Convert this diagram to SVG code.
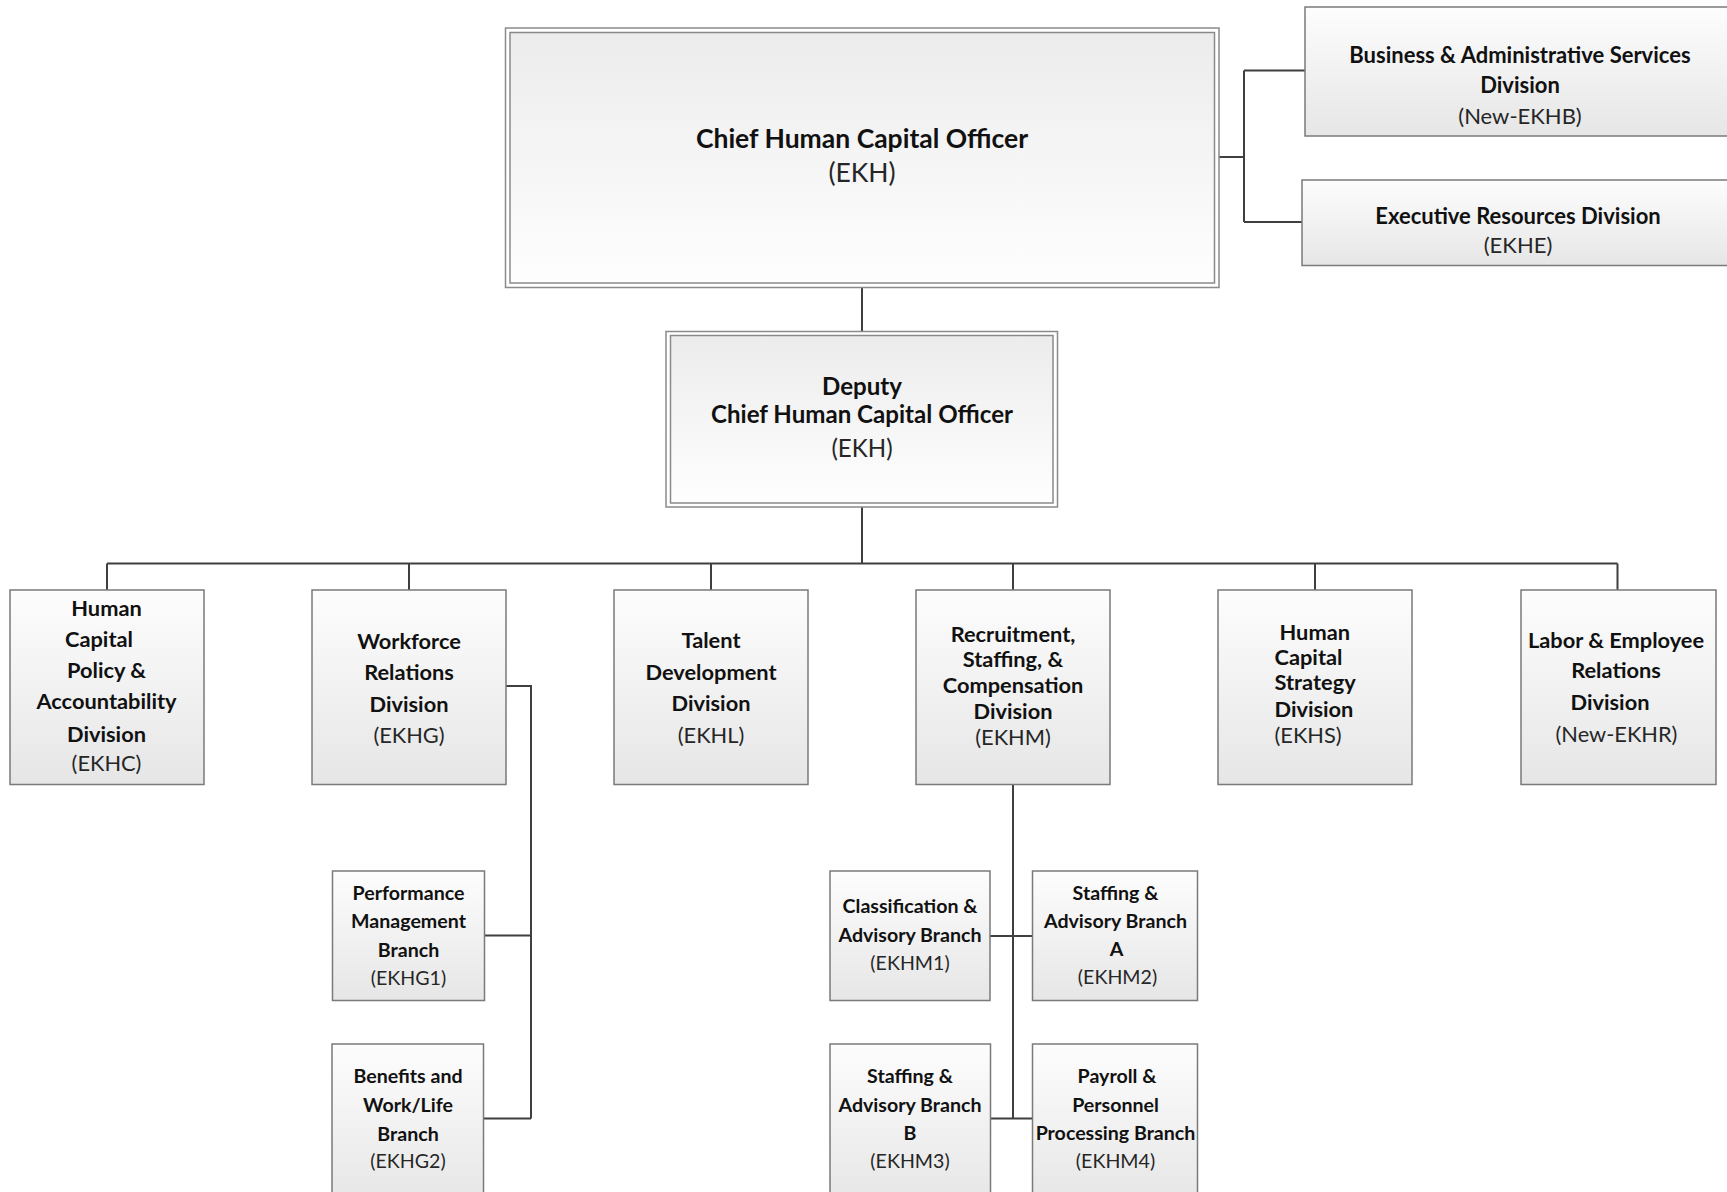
<svg xmlns="http://www.w3.org/2000/svg" width="1727" height="1192" viewBox="0 0 1727 1192">
<defs>
<linearGradient id="gDown" x1="0" y1="0" x2="0" y2="1"><stop offset="0" stop-color="#fdfdfd"/><stop offset="1" stop-color="#e6e6e6"/></linearGradient>
<linearGradient id="gUp" x1="0" y1="0" x2="0" y2="1"><stop offset="0" stop-color="#ececec"/><stop offset="1" stop-color="#fefefe"/></linearGradient>
<style>
.box{fill:url(#gDown);stroke:#7a7a7a;stroke-width:1.5}
.outer{fill:#ffffff;stroke:#8a8a8a;stroke-width:1.5}
.inner{fill:url(#gUp);stroke:#8a8a8a;stroke-width:1.5}
.conn{fill:none;stroke:#3f3f3f;stroke-width:2}
text{font-family:Lato,"Liberation Sans",sans-serif;text-anchor:middle;fill:#111}
.b{font-weight:bold}
.r{font-weight:normal;fill:#262626}
.h1{font-size:26.5px}
.h2{font-size:24.1px}
.h3{font-size:22px}
.d{font-size:21.8px}
.s{font-size:19.6px}
.l{text-anchor:start}
</style>
</defs>
<g id="connectors">
<path class="conn" d="M862 287.5V331.5"/>
<path class="conn" d="M1219 157H1244M1244 70.5V222M1244 70.5H1305M1244 222H1302"/>
<path class="conn" d="M862 507V563.5M107 563.5H1617.5M107 563.5V590M409 563.5V590M711 563.5V590M1013 563.5V590M1315 563.5V590M1617.5 563.5V590"/>
<path class="conn" d="M506 686H531V1118.5M531 935.5H484.5M531 1118.5H483.5"/>
<path class="conn" d="M1013 784.5V1118.5M990 936H1032.5M990.5 1118.5H1032.5"/>
</g>
<g id="chco">
<rect class="outer" x="505.5" y="28" width="713.5" height="259.5"/>
<rect class="inner" x="510" y="32.5" width="704.5" height="250.5"/>
<text class="b h1" x="862" y="148">Chief Human Capital Officer</text>
<text class="r h1" x="862" y="182">(EKH)</text>
</g>
<g id="bas">
<rect class="box" x="1305" y="7" width="430" height="129"/>
<text class="b h3" x="1520" y="63">Business &amp; Administrative Services</text>
<text class="b h3" x="1520" y="93">Division</text>
<text class="r h3" x="1520" y="124">(New-EKHB)</text>
</g>
<g id="erd">
<rect class="box" x="1302" y="180" width="433" height="85.5"/>
<text class="b h3" x="1518" y="224">Executive Resources Division</text>
<text class="r h3" x="1518" y="253">(EKHE)</text>
</g>
<g id="deputy">
<rect class="outer" x="666" y="331.5" width="391.5" height="175.5"/>
<rect class="inner" x="670.5" y="335.5" width="382.5" height="167.5"/>
<text class="b h2" x="862" y="395">Deputy</text>
<text class="b h2" x="862" y="423">Chief Human Capital Officer</text>
<text class="r h2" x="862" y="456.5">(EKH)</text>
</g>
<g id="ekhc">
<rect class="box" x="10" y="590" width="194" height="194.5"/>
<text class="b d" x="106.5" y="616">Human</text>
<text class="b d" x="99" y="647">Capital</text>
<text class="b d" x="106.5" y="678">Policy &amp;</text>
<text class="b d" x="106.5" y="709">Accountability</text>
<text class="b d" x="106.5" y="741.5">Division</text>
<text class="r d" x="106.5" y="771">(EKHC)</text>
</g>
<g id="ekhg">
<rect class="box" x="312" y="590" width="194" height="194.5"/>
<text class="b d" x="409" y="649">Workforce</text>
<text class="b d" x="409" y="680">Relations</text>
<text class="b d" x="409" y="711.5">Division</text>
<text class="r d" x="409" y="743">(EKHG)</text>
</g>
<g id="ekhl">
<rect class="box" x="614" y="590" width="194" height="194.5"/>
<text class="b d" x="711" y="648">Talent</text>
<text class="b d" x="711" y="679.5">Development</text>
<text class="b d" x="711" y="711">Division</text>
<text class="r d" x="711" y="742.5">(EKHL)</text>
</g>
<g id="ekhm">
<rect class="box" x="916" y="590" width="194" height="194.5"/>
<text class="b d" x="1013" y="641.5">Recruitment,</text>
<text class="b d" x="1013" y="666.5">Staffing, &amp;</text>
<text class="b d" x="1013" y="692.5">Compensation</text>
<text class="b d" x="1013" y="718.5">Division</text>
<text class="r d" x="1013" y="745">(EKHM)</text>
</g>
<g id="ekhs">
<rect class="box" x="1218" y="590" width="194" height="194.5"/>
<text class="b d l" x="1279.5" y="640">Human</text>
<text class="b d l" x="1274.5" y="665">Capital</text>
<text class="b d l" x="1274.5" y="690">Strategy</text>
<text class="b d l" x="1274.5" y="716.5">Division</text>
<text class="r d l" x="1274.5" y="743">(EKHS)</text>
</g>
<g id="ekhr">
<rect class="box" x="1521" y="590" width="195" height="194.5"/>
<text class="b d" x="1616" y="647.5">Labor &amp; Employee</text>
<text class="b d" x="1616" y="678">Relations</text>
<text class="b d" x="1610" y="709.5">Division</text>
<text class="r d" x="1616.5" y="742">(New-EKHR)</text>
</g>
<g id="ekhg1">
<rect class="box" x="332.5" y="871" width="152" height="129.5"/>
<text class="b s" x="408.5" y="900">Performance</text>
<text class="b s" x="408.5" y="928">Management</text>
<text class="b s" x="408.5" y="956.5">Branch</text>
<text class="r s" x="408.5" y="985">(EKHG1)</text>
</g>
<g id="ekhg2">
<rect class="box" x="332" y="1044" width="151.5" height="160"/>
<text class="b s" x="408" y="1083">Benefits and</text>
<text class="b s" x="408" y="1111.5">Work/Life</text>
<text class="b s" x="408" y="1141">Branch</text>
<text class="r s" x="408" y="1168">(EKHG2)</text>
</g>
<g id="ekhm1">
<rect class="box" x="830" y="871" width="160" height="129.5"/>
<text class="b s" x="910" y="913">Classification &amp;</text>
<text class="b s" x="910" y="941.5">Advisory Branch</text>
<text class="r s" x="910" y="970">(EKHM1)</text>
</g>
<g id="ekhm2">
<rect class="box" x="1032.5" y="871" width="165" height="129.5"/>
<text class="b s" x="1115.5" y="900">Staffing &amp;</text>
<text class="b s" x="1115.5" y="928.3">Advisory Branch</text>
<text class="b s" x="1116.5" y="956">A</text>
<text class="r s" x="1117.5" y="984">(EKHM2)</text>
</g>
<g id="ekhm3">
<rect class="box" x="830" y="1044" width="160.5" height="160"/>
<text class="b s" x="910" y="1083">Staffing &amp;</text>
<text class="b s" x="910" y="1111.5">Advisory Branch</text>
<text class="b s" x="910" y="1139.5">B</text>
<text class="r s" x="910" y="1167.5">(EKHM3)</text>
</g>
<g id="ekhm4">
<rect class="box" x="1032.5" y="1044" width="165" height="160"/>
<text class="b s" x="1117" y="1083">Payroll &amp;</text>
<text class="b s" x="1115.5" y="1111.5">Personnel</text>
<text class="b s" x="1115.5" y="1140">Processing Branch</text>
<text class="r s" x="1115.5" y="1167.5">(EKHM4)</text>
</g>
</svg>
